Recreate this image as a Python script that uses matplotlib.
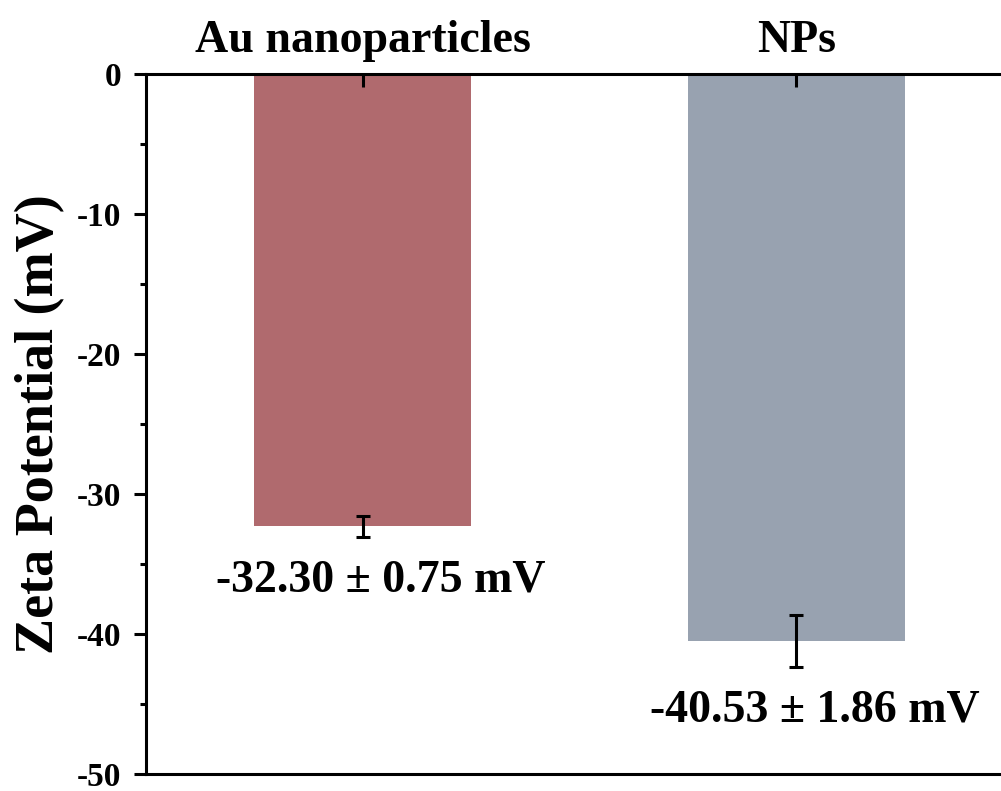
import matplotlib
matplotlib.use("Agg")
import matplotlib.pyplot as plt
import numpy as np
from matplotlib.ticker import MultipleLocator

plt.rcParams["font.family"] = ["Liberation Serif", "DejaVu Serif"]
plt.rcParams["font.weight"] = "bold"
plt.rcParams["axes.unicode_minus"] = False

# zeta potential measurements
samples = ["Au nanoparticles", "NPs"]
zeta_mean = [-32.30, -40.53]
zeta_err = [0.75, 1.86]
bar_colors = ["#B06A6E", "#98A2B0"]

fig = plt.figure(figsize=(10.01, 7.91), dpi=100)
ax = fig.add_axes([0.1459, 0.0215, 0.866, 0.8849])

x = np.arange(len(samples))
ax.bar(x, zeta_mean, width=0.5, color=bar_colors, zorder=1)
ax.errorbar(x, zeta_mean, yerr=zeta_err, fmt="none", ecolor="black",
            elinewidth=2.2, capsize=5, capthick=2.2, zorder=3)

# value labels under each bar
for i, (m, e) in enumerate(zip(zeta_mean, zeta_err)):
    ax.text(i + 0.042, m - e - 3.1, f"{m:.2f} \u00b1 {e:.2f} mV",
            ha="center", va="center", fontsize=33, fontweight="bold")

ax.set_xlim(-0.5, 1.5)
ax.set_ylim(-50, 0)

ax.xaxis.tick_top()
ax.set_xticks(x)
ax.set_xticklabels(samples, fontsize=33, fontweight="bold")
ax.tick_params(axis="x", direction="in", length=9, width=2.2, pad=9)

ax.yaxis.set_major_locator(MultipleLocator(10))
ax.yaxis.set_minor_locator(MultipleLocator(5))
ax.tick_params(axis="y", which="major", direction="out", length=9, width=2.2,
               labelsize=24, pad=9)
ax.tick_params(axis="y", which="minor", direction="out", length=4.5, width=2.2)
for lab in ax.get_yticklabels():
    lab.set_fontweight("bold")

ax.set_ylabel("Zeta Potential (mV)", fontsize=39, fontweight="bold", labelpad=8)

for side in ["left", "top", "bottom"]:
    ax.spines[side].set_linewidth(2.2)
ax.spines["right"].set_visible(False)

fig.savefig("out.png", dpi=100)
